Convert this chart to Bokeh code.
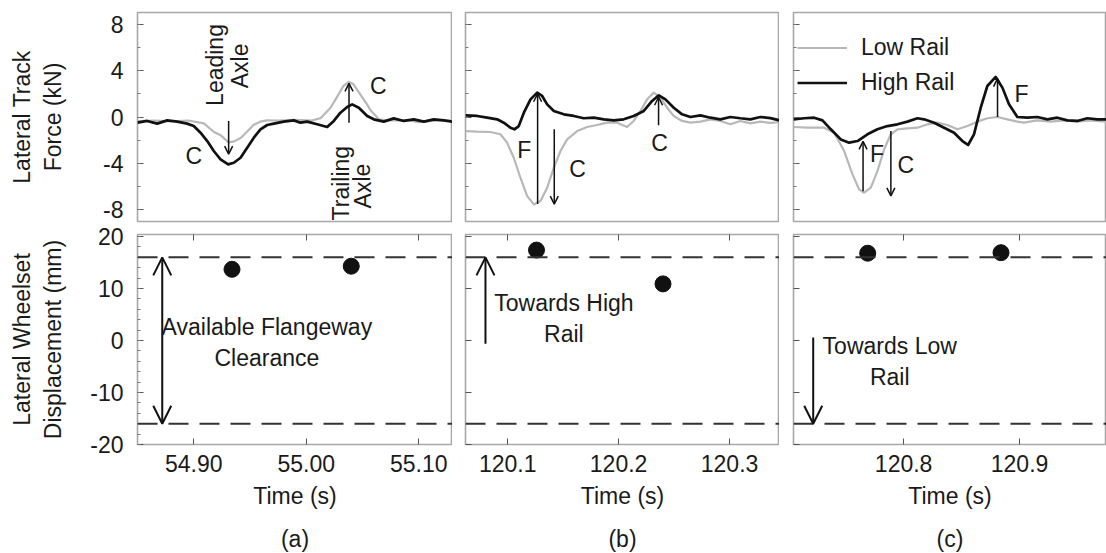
from bokeh.plotting import figure
from bokeh.layouts import row, column
from bokeh.models import (Range1d, Span, Arrow, OpenHead, Label, Legend, LegendItem,
                          FixedTicker, Title, LinearAxis, NumeralTickFormatter,
                          CustomJSTickFormatter)
from bokeh.embed import file_html
from bokeh.resources import INLINE

FONT = "Liberation Sans"
FS = "23px"
TXT = "#1a1a1a"
GRAY = "#b8b8b8"
BLACK = "#111111"

# ---------------- data ----------------
# (a) lateral track force, kN
ta_high = [54.850, 54.8586, 54.8675, 54.8764, 54.8853, 54.8941, 54.9000, 54.9060, 54.9120, 54.9178,
           54.9238, 54.9306, 54.9356, 54.9416, 54.9475, 54.9534, 54.9593, 54.9653, 54.9712, 54.9800,
           54.9889, 54.9949, 55.0008, 55.0097, 55.0186, 55.0245, 55.0304, 55.0364, 55.0408, 55.0467,
           55.0542, 55.0600, 55.0689, 55.0778, 55.0867, 55.0956, 55.1045, 55.1134, 55.1223, 55.1300]
fa_high = [-0.49, -0.34, -0.57, -0.29, -0.40, -0.57, -0.78, -1.35, -2.07, -2.93,
           -3.65, -4.08, -3.94, -3.51, -2.64, -1.78, -1.06, -0.69, -0.57, -0.40,
           -0.29, -0.49, -0.40, -0.63, -0.86, -0.34, 0.37, 0.86, 1.09, 0.80,
           0.09, -0.20, -0.40, -0.12, -0.34, -0.20, -0.40, -0.20, -0.29, -0.40]
ta_low = [54.850, 54.865, 54.880, 54.895, 54.909, 54.918, 54.924, 54.931, 54.936, 54.942,
          54.948, 54.953, 54.959, 54.965, 54.975, 54.990, 55.005, 55.0127, 55.0216, 55.027,
          55.033, 55.038, 55.042, 55.048, 55.054, 55.057, 55.0645, 55.075, 55.090, 55.100,
          55.110, 55.120, 55.130]
fa_low = [-0.35, -0.30, -0.38, -0.30, -0.55, -1.29, -1.58, -2.18, -2.10, -1.78,
          -1.21, -0.69, -0.40, -0.29, -0.30, -0.25, -0.30, -0.10, 0.80, 1.67,
          2.67, 3.02, 2.82, 1.95, 1.09, 0.60, -0.20, -0.30, -0.28, -0.45,
          -0.35, -0.30, -0.30]

# (b)
tb_high = [120.0620, 120.0725, 120.0815, 120.0905, 120.0965, 120.1025, 120.1061, 120.1100, 120.1146, 120.1206,
           120.1266, 120.1311, 120.1356, 120.1416, 120.1506, 120.1596, 120.1686, 120.1776, 120.1866, 120.1956,
           120.2046, 120.2136, 120.2227, 120.2302, 120.2362, 120.2422, 120.2497, 120.2572, 120.2647, 120.2737,
           120.2827, 120.2917, 120.3007, 120.3097, 120.3187, 120.3278, 120.3368, 120.3450]
fb_high = [0.14, 0.09, -0.06, -0.20, -0.49, -0.92, -1.06, -0.78, 0.37, 1.52,
           2.10, 1.81, 1.09, 0.52, 0.23, 0.09, -0.11, -0.06, -0.20, -0.29,
           -0.20, 0.09, 0.52, 1.38, 1.87, 1.52, 0.80, 0.23, 0.00, 0.14,
           -0.06, -0.20, 0.00, -0.11, -0.20, 0.00, -0.10, -0.29]
tb_low = [120.0620, 120.0725, 120.0845, 120.0935, 120.0995, 120.1055, 120.1115, 120.1176, 120.1236, 120.1296,
          120.1356, 120.1416, 120.1476, 120.1536, 120.1626, 120.1716, 120.1806, 120.1896, 120.1986, 120.2076,
          120.2136, 120.2197, 120.2257, 120.2317, 120.2377, 120.2437, 120.2497, 120.2572, 120.2647, 120.2737,
          120.2827, 120.2917, 120.3007, 120.3097, 120.3187, 120.3278, 120.3368, 120.3450]
fb_low = [-1.21, -1.26, -1.29, -1.49, -2.21, -3.51, -5.23, -6.81, -7.53, -7.24,
          -6.09, -4.37, -2.93, -1.93, -1.21, -0.86, -0.69, -0.49, -0.49, -0.86,
          -0.34, 0.52, 1.52, 2.10, 1.67, 0.80, 0.09, -0.34, -0.49, -0.40,
          -0.20, -0.34, -0.63, -0.34, -0.55, -0.40, -0.50, -0.45]

# (c)
tc_high = [120.7050, 120.7142, 120.7228, 120.7300, 120.7372, 120.7458, 120.7530, 120.7602, 120.7688, 120.7774,
           120.7860, 120.7947, 120.8033, 120.8119, 120.8176, 120.8263, 120.8349, 120.8435, 120.8507, 120.8556,
           120.8607, 120.8665, 120.8722, 120.8794, 120.8852, 120.8909, 120.8981, 120.9067, 120.9153, 120.9240,
           120.9326, 120.9412, 120.9498, 120.9584, 120.9671, 120.9750]
fc_high = [-0.20, -0.11, -0.06, -0.29, -1.06, -1.93, -2.21, -2.07, -1.49, -1.06,
           -0.78, -0.63, -0.40, -0.11, -0.20, -0.49, -0.92, -1.35, -2.07, -2.41,
           -1.49, 0.80, 2.67, 3.45, 2.53, 1.09, 0.00, -0.06, 0.00, -0.20,
           -0.06, -0.29, -0.34, -0.11, -0.20, -0.20]
tc_low = [120.7050, 120.7171, 120.7314, 120.7401, 120.7487, 120.7559, 120.7616, 120.7659, 120.7717, 120.7774,
          120.7832, 120.7889, 120.7947, 120.8033, 120.8119, 120.8205, 120.8291, 120.8378, 120.8464, 120.8550,
          120.8636, 120.8722, 120.8809, 120.8895, 120.8981, 120.9038, 120.9153, 120.9268, 120.9383, 120.9498,
          120.9613, 120.9750]
fc_low = [-0.86, -0.92, -0.92, -1.35, -2.93, -4.94, -6.24, -6.52, -6.09, -4.66,
          -2.79, -1.49, -1.06, -0.98, -0.92, -0.63, -0.49, -0.69, -1.06, -0.78,
          -0.40, -0.11, 0.00, -0.20, -0.40, -0.49, -0.29, -0.40, -0.29, -0.40,
          -0.29, -0.40]

# lateral wheelset displacement, mm
da_t = [54.934, 55.040]
da_v = [13.7, 14.3]
db_t = [120.126, 120.240]
db_v = [17.4, 10.9]
dc_t = [120.769, 120.884]
dc_v = [16.8, 16.9]
clearance = 16

force_ticks = [-8, -4, 0, 4, 8]
force_minor = [-8, -6, -4, -2, 0, 2, 4, 6, 8]
disp_ticks = [-20, -10, 0, 10, 20]
disp_minor = list(range(-20, 21, 2))

cols = [
    dict(left=137, fw=315, xr=(54.85, 55.13), ticks=[54.9, 55.0, 55.1], fmt="0.00", tag="(a)"),
    dict(left=13, fw=314, xr=(120.062, 120.345), ticks=[120.1, 120.2, 120.3], fmt="0.0", tag="(b)"),
    dict(left=14, fw=313, xr=(120.705, 120.975), ticks=[120.8, 120.9], fmt="0.0", tag="(c)"),
]

BLANK = CustomJSTickFormatter(code="return ''")


def style_yaxis(ax, ticks, minor, labels, label_text=None, label_standoff=20):
    ax.ticker = FixedTicker(ticks=ticks, minor_ticks=minor)
    ax.major_tick_in = 6
    ax.major_tick_out = 0
    ax.minor_tick_in = 3
    ax.minor_tick_out = 0
    ax.major_tick_line_color = "#555555"
    ax.minor_tick_line_color = "#777777"
    ax.axis_line_color = None
    if labels:
        ax.formatter = NumeralTickFormatter(format="0")
        ax.major_label_text_font = FONT
        ax.major_label_text_font_size = FS
        ax.major_label_text_color = TXT
        ax.major_label_standoff = 14
        ax.axis_label = label_text
        ax.axis_label_text_font = FONT
        ax.axis_label_text_font_size = FS
        ax.axis_label_text_font_style = "normal"
        ax.axis_label_text_color = TXT
        ax.axis_label_standoff = label_standoff
    else:
        ax.formatter = BLANK
        ax.major_label_text_font_size = "1px"
        ax.major_label_standoff = 0


def base_fig(c, yr, top):
    p = figure(frame_width=c["fw"], frame_height=209 if top else 210,
               min_border_left=c["left"], min_border_right=0,
               min_border_top=12 if top else 11,
               min_border_bottom=2 if top else 109,
               x_range=Range1d(*c["xr"]), y_range=Range1d(*yr),
               output_backend="svg", toolbar_location=None)
    p.grid.visible = False
    p.outline_line_color = "#a8a8a8"
    p.outline_line_width = 1.6
    p.background_fill_color = "white"
    p.border_fill_color = "white"
    return p


def arrow(p, x0, y0, x1, y1, size=8, lw=1.5, start=False):
    head = dict(size=size, line_width=lw, line_color=BLACK)
    p.add_layout(Arrow(x_start=x0, y_start=y0, x_end=x1, y_end=y1,
                       end=OpenHead(**head), start=OpenHead(**head) if start else None,
                       line_width=lw, line_color=BLACK))


def label(p, x, y, text, angle=0):
    p.add_layout(Label(x=x, y=y, text=text, text_font=FONT, text_font_size=FS,
                       text_color=TXT, text_align="center", text_baseline="middle",
                       angle=angle))


force_series = [(ta_low, fa_low, ta_high, fa_high),
                (tb_low, fb_low, tb_high, fb_high),
                (tc_low, fc_low, tc_high, fc_high)]
disp_series = [(da_t, da_v), (db_t, db_v), (dc_t, dc_v)]

tops, bots = [], []
for i, c in enumerate(cols):
    # ---------- top: force ----------
    p = base_fig(c, (-9, 9), True)
    p.xaxis.visible = False
    style_yaxis(p.yaxis[0], force_ticks, force_minor, i == 0,
                "Lateral Track\nForce (kN)", 34)
    tl, fl, th, fh = force_series[i]
    rl = p.line(tl, fl, line_color=GRAY, line_width=2.2, line_join="round")
    rh = p.line(th, fh, line_color=BLACK, line_width=2.7, line_join="round")
    if i == 2:
        leg = Legend(items=[LegendItem(label="Low Rail", renderers=[rl]),
                            LegendItem(label="High Rail", renderers=[rh])],
                     location=(4, 125), margin=0, padding=0, spacing=8,
                     glyph_width=50, glyph_height=25, label_height=25,
                     label_standoff=14, border_line_color=None,
                     background_fill_alpha=0, label_text_font=FONT,
                     label_text_font_size=FS, label_text_color=TXT)
        p.add_layout(leg)
    tops.append(p)

    # ---------- bottom: displacement ----------
    q = base_fig(c, (-20, 20.4), False)
    style_yaxis(q.yaxis[0], disp_ticks, disp_minor if i == 0 else [], i == 0,
                "Lateral Wheelset\nDisplacement (mm)", 21)
    xa = q.xaxis[0]
    xa.ticker = FixedTicker(ticks=c["ticks"])
    xa.formatter = NumeralTickFormatter(format=c["fmt"])
    xa.major_tick_in = 6
    xa.major_tick_out = 0
    xa.minor_tick_in = 0
    xa.minor_tick_out = 0
    xa.major_tick_line_color = "#555555"
    xa.axis_line_color = None
    xa.major_label_text_font = FONT
    xa.major_label_text_font_size = FS
    xa.major_label_text_color = TXT
    xa.major_label_standoff = 10
    xa.axis_label = "Time (s)"
    xa.axis_label_text_font = FONT
    xa.axis_label_text_font_size = FS
    xa.axis_label_text_font_style = "normal"
    xa.axis_label_text_color = TXT
    xa.axis_label_standoff = 8
    top_ax = LinearAxis(ticker=FixedTicker(ticks=c["ticks"]), formatter=BLANK,
                        major_label_text_font_size="1px", major_label_standoff=0,
                        major_tick_in=6, major_tick_out=0, minor_tick_in=0, minor_tick_out=0,
                        major_tick_line_color="#555555", axis_line_color=None)
    q.add_layout(top_ax, "above")
    q.add_layout(Title(text=c["tag"], align="center", text_font=FONT, text_font_size=FS,
                       text_font_style="normal", text_color=TXT, standoff=24), "below")
    for loc in (clearance, -clearance):
        q.add_layout(Span(location=loc, dimension="width", line_color="#333333",
                          line_width=2, line_dash="20 11"))
    dt, dv = disp_series[i]
    q.scatter(dt, dv, size=16, color=BLACK)
    bots.append(q)

# ---------- annotations ----------
pa, pb, pc = tops
arrow(pa, 54.931, -0.35, 54.931, -3.2)
arrow(pa, 55.038, -0.5, 55.038, 2.9)
label(pa, 54.900, -3.4, "C")
label(pa, 55.064, 2.7, "C")
label(pa, 54.9193, 4.48, "Leading", angle=1.5708)
label(pa, 54.9407, 4.4, "Axle", angle=1.5708)
label(pa, 55.0313, -5.7, "Trailing", angle=1.5708)
label(pa, 55.0500, -5.95, "Axle", angle=1.5708)

arrow(pb, 120.127, -7.5, 120.127, 2.0)
arrow(pb, 120.142, -1.05, 120.142, -7.5)
arrow(pb, 120.236, -0.7, 120.236, 1.7)
label(pb, 120.115, -2.8, "F")
label(pb, 120.163, -4.5, "C")
label(pb, 120.237, -2.2, "C")

arrow(pc, 120.765, -6.4, 120.765, -2.1)
arrow(pc, 120.789, -1.2, 120.789, -6.8)
arrow(pc, 120.881, 0.0, 120.881, 3.3)
label(pc, 120.777, -3.2, "F")
label(pc, 120.8018, -4.1, "C")
label(pc, 120.9016, 2.0, "F")

qa, qb, qc = bots
arrow(qa, 54.872, -clearance, 54.872, clearance, size=18, lw=2, start=True)
label(qa, 54.965, -0.45, "Available Flangeway\nClearance")
arrow(qb, 120.080, -0.6, 120.080, clearance, size=18, lw=2)
label(qb, 120.1507, 4.3, "Towards High\nRail")
arrow(qc, 120.722, 0.6, 120.722, -clearance, size=18, lw=2)
label(qc, 120.788, -4.1, "Towards Low\nRail")

layout = column(row(*tops), row(*bots))
open("out.html", "w").write(file_html(layout, INLINE))
